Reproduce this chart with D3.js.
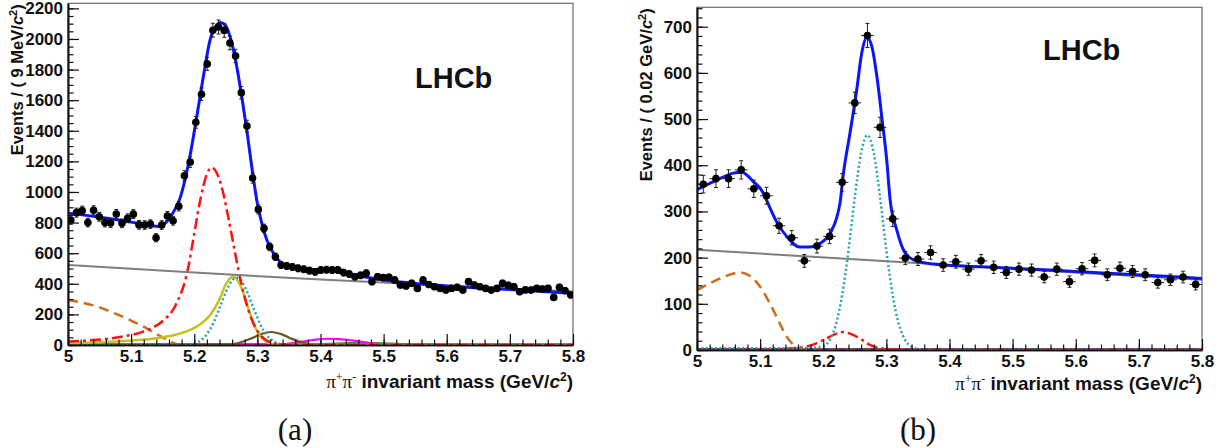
<!DOCTYPE html>
<html>
<head>
<meta charset="utf-8">
<script src="https://cdn.jsdelivr.net/npm/d3@7"></script>
<style>
  body { margin: 0; background: #fff; }
</style>
</head>
<body>
<svg id="fig" width="1232" height="448" font-family="'Liberation Sans', Arial, Helvetica, sans-serif"></svg>
<script>
// ---------------- Panel (a): pi+ pi- mass, 9 MeV/c^2 bins ----------------
const binLowA = 5.0, binWidthA = 0.009;
const countsA = [817, 865, 878, 800, 880, 838, 800, 797, 856, 795,
                 828, 855, 785, 784, 790, 701, 784, 843, 812, 906,
                 1106, 1195, 1455, 1639, 1837, 2057, 2078, 2056, 1974, 1889,
                 1649, 1431, 1091, 886, 762, 642, 577, 523, 516, 510,
                 501, 495, 486, 478, 490, 492, 490, 490, 473, 464,
                 446, 455, 469, 414, 446, 440, 442, 425, 392, 386,
                 403, 370, 425, 395, 381, 370, 359, 370, 377, 359,
                 414, 392, 381, 370, 359, 370, 403, 390, 381, 348,
                 360, 359, 370, 365, 370, 311, 377, 355, 327];

// Fit projections, sampled as [mass, events/bin]
const totalFitA = [[5.000, 862], [5.050, 835], [5.100, 803], [5.130, 780], [5.145, 775],
  [5.155, 800], [5.165, 855], [5.1775, 960], [5.193, 1230], [5.204, 1492], [5.2144, 1754],
  [5.225, 1993], [5.2357, 2092], [5.241, 2107], [5.249, 2092], [5.2567, 2015], [5.2674, 1819],
  [5.2753, 1623], [5.2832, 1405], [5.2911, 1165], [5.299, 948], [5.307, 795], [5.315, 686],
  [5.3254, 599], [5.336, 544], [5.3466, 515], [5.36, 500], [5.38, 492], [5.40, 492],
  [5.42, 488], [5.44, 470], [5.46, 452], [5.50, 425], [5.55, 402], [5.60, 386],
  [5.65, 373], [5.70, 362], [5.75, 350], [5.80, 338]];
const combinatorialA = [[5.0, 523], [5.2, 473], [5.4, 428], [5.6, 388], [5.8, 350]];
const kpiMisidA = [[5.00, 23], [5.04, 32], [5.08, 51], [5.12, 89], [5.15, 157], [5.17, 257],
  [5.19, 496], [5.20, 728], [5.21, 957], [5.22, 1117], [5.228, 1160], [5.235, 1130],
  [5.245, 1008], [5.255, 812], [5.265, 595], [5.275, 394], [5.285, 237], [5.295, 130],
  [5.305, 64], [5.315, 29], [5.33, 7], [5.35, 0], [5.80, 0]];
const kkMisidA = [[5.00, 13], [5.05, 18], [5.10, 29], [5.14, 44], [5.17, 67], [5.19, 92],
  [5.21, 137], [5.225, 195], [5.24, 298], [5.25, 397], [5.262, 448], [5.275, 371],
  [5.285, 247], [5.295, 131], [5.305, 55], [5.315, 19], [5.325, 5], [5.34, 0], [5.80, 0]];
const pipiSignalA = [[5.00, 0], [5.18, 1], [5.20, 11], [5.21, 29], [5.22, 70], [5.23, 141],
  [5.24, 240], [5.25, 346], [5.26, 422], [5.267, 440], [5.275, 417], [5.285, 336],
  [5.295, 229], [5.305, 132], [5.315, 64], [5.325, 26], [5.335, 9], [5.35, 1], [5.80, 0]];
const bsPipiA = [[5.00, 0], [5.25, 2], [5.27, 13], [5.29, 42], [5.305, 70], [5.322, 85],
  [5.34, 68], [5.355, 40], [5.375, 12], [5.40, 1], [5.80, 0]];
const lambdaBA = [[5.00, 0], [5.31, 1], [5.33, 3], [5.35, 10], [5.37, 22], [5.39, 34],
  [5.41, 41], [5.43, 39], [5.45, 30], [5.47, 17], [5.49, 7], [5.51, 3], [5.55, 1], [5.60, 0], [5.80, 0]];
const threeBodyA = [[5.38, 0], [5.42, 9], [5.46, 14], [5.50, 12], [5.54, 6], [5.58, 2], [5.62, 0]];
const partRecoA = [[5.000, 294], [5.025, 275], [5.050, 246], [5.075, 205], [5.100, 160],
  [5.125, 108], [5.140, 72], [5.155, 38], [5.170, 9], [5.180, 0], [5.80, 0]];
const zeroLineA = [[5.0, 1], [5.8, 1]];

// ---------------- Panel (b): pi+ pi- mass, 0.02 GeV/c^2 bins ----------------
const binLowB = 5.0, binWidthB = 0.02;
const countsB = [359, 371, 371, 390, 349, 334, 269, 243, 193, 225,
                 246, 363, 535, 681, 482, 284, 199, 197, 211, 184,
                 191, 175, 193, 179, 168, 175, 173, 158, 175, 148,
                 176, 194, 163, 177, 170, 163, 146, 152, 158, 142];

const totalFitB = [[5.000, 347], [5.031, 368], [5.0575, 383], [5.071, 385], [5.089, 365],
  [5.105, 340], [5.110, 325], [5.126, 278], [5.142, 246], [5.163, 223], [5.179, 223],
  [5.195, 231], [5.211, 253], [5.2265, 318], [5.232, 383], [5.2424, 470], [5.253, 563],
  [5.261, 643], [5.269, 677], [5.277, 657], [5.285, 592], [5.2926, 506], [5.3005, 412],
  [5.306, 325], [5.3164, 260], [5.327, 217], [5.343, 195], [5.374, 186], [5.45, 180],
  [5.55, 174], [5.65, 166], [5.75, 159], [5.80, 155]];
const combinatorialB = [[5.0, 217], [5.4, 184], [5.8, 152]];
const partRecoB = [[5.000, 130], [5.026, 148], [5.052, 163], [5.068, 168], [5.084, 160],
  [5.100, 137], [5.118, 94], [5.131, 58], [5.142, 29], [5.153, 11], [5.165, 2], [5.175, 0], [5.80, 0]];
const kpiMisidB = [[5.00, 0], [5.10, 1], [5.15, 4], [5.175, 8], [5.19, 15], [5.205, 25],
  [5.22, 35], [5.232, 39], [5.245, 34], [5.258, 25], [5.27, 14], [5.28, 8], [5.295, 3],
  [5.31, 0], [5.80, 0]];
const pipiSignalB = [[5.00, 4], [5.10, 4], [5.17, 4], [5.20, 8], [5.21, 21], [5.22, 55],
  [5.23, 119], [5.24, 216], [5.25, 331], [5.26, 427], [5.27, 465], [5.28, 427],
  [5.29, 331], [5.30, 216], [5.31, 119], [5.32, 55], [5.33, 21], [5.34, 7], [5.35, 2], [5.37, 0], [5.80, 0]];
const zeroLineB = [[5.0, 1], [5.8, 1]];

// Axis tick values
const massTicks = [5.0, 5.1, 5.2, 5.3, 5.4, 5.5, 5.6, 5.7, 5.8];
const yTicksA = [0, 200, 400, 600, 800, 1000, 1200, 1400, 1600, 1800, 2000, 2200];
const yTicksB = [0, 100, 200, 300, 400, 500, 600, 700];

// ---------------- drawing ----------------
const svg = d3.select("#fig");
const SANS = "'Liberation Sans', Arial, Helvetica, sans-serif";
const SERIF = "'Liberation Serif', 'DejaVu Serif', 'Times New Roman', serif";

const panels = [
  {
    id: "a", left: 68, right: 573, top: 3.3, bottom: 345, ymax: 2233,
    binLow: binLowA, binWidth: binWidthA, counts: countsA,
    yTicks: yTicksA, yMinorStep: 50,
    yTitle: ["Events / ( 9 MeV/", "c", "2", ")"],
    curves: [
      { d: zeroLineA, c: "#7a1fa0", w: 3 },
      { d: partRecoA, c: "#d06a18", w: 2.5, dash: "10,6" },
      { d: threeBodyA, c: "#2a9a2a", w: 2 },
      { d: lambdaBA, c: "#ff00ff", w: 2.2 },
      { d: bsPipiA, c: "#6b5520", w: 2.2 },
      { d: kkMisidA, c: "#c2c21c", w: 2.5 },
      { d: pipiSignalA, c: "#22a6a6", w: 2.5, dash: "2,2.5" },
      { d: kpiMisidA, c: "#ff1010", w: 2.5, dash: "11,4,3,4" },
      { d: combinatorialA, c: "#7f7f7f", w: 2 },
      { d: totalFitA, c: "#0a14ff", w: 3 }
    ],
    lhcb: [415, 88], panelLabel: [295, 440], titleX: 573, titleY: 388
  },
  {
    id: "b", left: 697, right: 1202, top: 7.3, bottom: 350, ymax: 742,
    binLow: binLowB, binWidth: binWidthB, counts: countsB,
    yTicks: yTicksB, yMinorStep: 20,
    yTitle: ["Events / ( 0.02 GeV/", "c", "2", ")"],
    curves: [
      { d: zeroLineB, c: "#5a3a9a", w: 3 },
      { d: partRecoB, c: "#d06a18", w: 2.5, dash: "10,6" },
      { d: kpiMisidB, c: "#ff1010", w: 2.5, dash: "11,4,3,4" },
      { d: pipiSignalB, c: "#22a6a6", w: 2.5, dash: "2,2.5" },
      { d: combinatorialB, c: "#7f7f7f", w: 2 },
      { d: totalFitB, c: "#0a14ff", w: 3 }
    ],
    lhcb: [1043, 60], panelLabel: [918, 440], titleX: 1202, titleY: 390
  }
];

panels.forEach(p => {
  const x = d3.scaleLinear().domain([5.0, 5.8]).range([p.left, p.right]);
  const y = d3.scaleLinear().domain([0, p.ymax]).range([p.bottom, p.top]);
  const g = svg.append("g");

  const clipId = "clip-" + p.id;
  svg.append("defs").append("clipPath").attr("id", clipId)
    .append("rect").attr("x", p.left).attr("y", p.top)
    .attr("width", p.right - p.left).attr("height", p.bottom - p.top);

  // frame
  g.append("rect").attr("x", p.left).attr("y", p.top)
    .attr("width", p.right - p.left).attr("height", p.bottom - p.top)
    .attr("fill", "none").attr("stroke", "#6a6a6a").attr("stroke-width", 1.2);

  // fit curves
  const line = d3.line().x(d => x(d[0])).y(d => y(d[1])).curve(d3.curveMonotoneX);
  const cg = g.append("g").attr("clip-path", `url(#${clipId})`);
  p.curves.forEach(c => {
    cg.append("path").attr("d", line(c.d)).attr("fill", "none")
      .attr("stroke", c.c).attr("stroke-width", c.w)
      .attr("stroke-dasharray", c.dash || null)
      .attr("stroke-linejoin", "round");
  });

  // data points with Poisson errors and bin-width bars
  const pts = p.counts.map((n, i) => ({
    m: p.binLow + (i + 0.5) * p.binWidth,
    lo: p.binLow + i * p.binWidth,
    hi: p.binLow + (i + 1) * p.binWidth,
    n
  }));
  const dg = g.append("g").attr("clip-path", `url(#${clipId})`);
  const eb = dg.selectAll("g.pt").data(pts).join("g");
  eb.append("line")
    .attr("x1", d => x(d.m)).attr("x2", d => x(d.m))
    .attr("y1", d => y(d.n + Math.sqrt(d.n))).attr("y2", d => y(d.n - Math.sqrt(d.n)))
    .attr("stroke", "#222").attr("stroke-width", 1);
  eb.append("line")
    .attr("x1", d => x(d.lo)).attr("x2", d => x(d.hi))
    .attr("y1", d => y(d.n)).attr("y2", d => y(d.n))
    .attr("stroke", "#222").attr("stroke-width", 1);
  [1, -1].forEach(s => {
    eb.append("line")
      .attr("x1", d => x(d.m) - 2).attr("x2", d => x(d.m) + 2)
      .attr("y1", d => y(d.n + s * Math.sqrt(d.n))).attr("y2", d => y(d.n + s * Math.sqrt(d.n)))
      .attr("stroke", "#222").attr("stroke-width", 1);
  });
  eb.append("circle").attr("cx", d => x(d.m)).attr("cy", d => y(d.n))
    .attr("r", 3.8).attr("fill", "#000");

  // axes
  const fmtMass = d => String(+d.toFixed(1));
  const xMajor = d3.axisBottom(x).tickValues(massTicks).tickFormat(fmtMass)
    .tickSizeInner(-11).tickSizeOuter(0).tickPadding(5);
  const xMinor = d3.axisBottom(x).tickValues(d3.range(5.0, 5.801, 0.02))
    .tickFormat("").tickSizeInner(-5.5).tickSizeOuter(0);
  const yMajor = d3.axisLeft(y).tickValues(p.yTicks).tickFormat(d3.format("d"))
    .tickSizeInner(-11).tickSizeOuter(0).tickPadding(5);
  const yMinor = d3.axisLeft(y).tickValues(d3.range(0, p.ymax, p.yMinorStep))
    .tickFormat("").tickSizeInner(-5.5).tickSizeOuter(0);

  const styleAxis = sel => {
    sel.attr("font-family", SANS);
    sel.selectAll("path.domain").attr("stroke", "#111").attr("stroke-width", 1.6);
    sel.selectAll(".tick line").attr("stroke", "#111").attr("stroke-width", 1.2);
    sel.selectAll("text").attr("font-weight", "bold").attr("font-size", 17).attr("fill", "#111");
  };
  g.append("g").attr("transform", `translate(0,${p.bottom})`).call(xMinor).call(styleAxis);
  g.append("g").attr("transform", `translate(0,${p.bottom})`).call(xMajor).call(styleAxis);
  g.append("g").attr("transform", `translate(${p.left},0)`).call(yMinor).call(styleAxis);
  g.append("g").attr("transform", `translate(${p.left},0)`).call(yMajor).call(styleAxis);

  // y title (rotated, aligned to top of axis)
  const yt = g.append("text")
    .attr("transform", `translate(${p.left - 51},${p.top + 1}) rotate(-90)`)
    .attr("text-anchor", "end").attr("dy", "0.35em").attr("font-family", SANS)
    .attr("font-weight", "bold").attr("font-size", 16.5).attr("fill", "#111");
  yt.append("tspan").text(p.yTitle[0]);
  yt.append("tspan").attr("font-style", "italic").text(p.yTitle[1]);
  yt.append("tspan").attr("font-size", 11).attr("baseline-shift", "super").text(p.yTitle[2]);
  yt.append("tspan").text(p.yTitle[3]);

  // x title
  const xt = g.append("text").attr("x", p.titleX).attr("y", p.titleY)
    .attr("text-anchor", "end").attr("font-weight", "bold").attr("font-family", SANS)
    .attr("font-size", 19).attr("fill", "#111");
  xt.append("tspan").attr("font-family", SERIF).attr("font-weight", "normal")
    .attr("font-size", 19).text("π");
  xt.append("tspan").attr("font-family", SERIF).attr("font-weight", "normal")
    .attr("font-size", 12).attr("baseline-shift", "super").text("+");
  xt.append("tspan").attr("font-family", SERIF).attr("font-weight", "normal")
    .attr("font-size", 19).text("π");
  xt.append("tspan").attr("font-family", SERIF).attr("font-weight", "normal")
    .attr("font-size", 12).attr("baseline-shift", "super").text("-");
  xt.append("tspan").text(" invariant mass (GeV/");
  xt.append("tspan").attr("font-style", "italic").text("c");
  xt.append("tspan").attr("font-size", 12).attr("baseline-shift", "super").text("2");
  xt.append("tspan").text(")");

  // experiment label
  g.append("text").attr("x", p.lhcb[0]).attr("y", p.lhcb[1]).attr("font-family", SANS)
    .attr("font-weight", "bold").attr("font-size", 29).attr("fill", "#111").text("LHCb");

  // sub-figure label
  g.append("text").attr("x", p.panelLabel[0]).attr("y", p.panelLabel[1])
    .attr("text-anchor", "middle").attr("font-family", SERIF)
    .attr("font-size", 31).attr("fill", "#111").text(`(${p.id})`);
});
</script>
</body>
</html>
